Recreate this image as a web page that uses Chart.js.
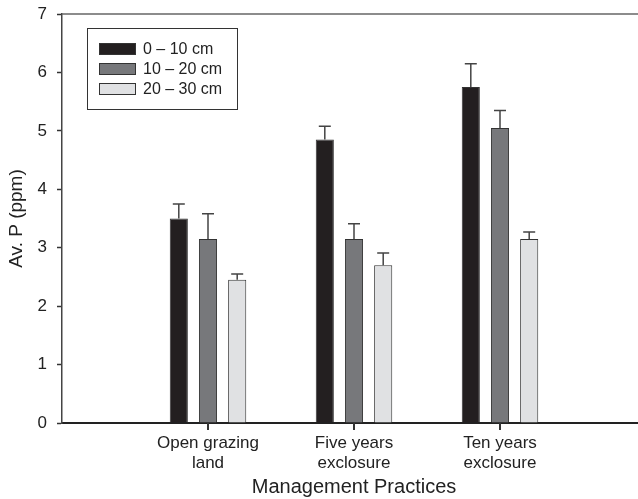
<!DOCTYPE html>
<html>
<head>
<meta charset="utf-8">
<script src="https://cdn.jsdelivr.net/npm/chart.js@4.4.1/dist/chart.umd.min.js"></script>
<style>
    html, body { margin: 0; padding: 0; background: #fff; }
    #wrap { width: 638px; height: 499px; overflow: hidden; }
</style>
</head>
<body>
<div id="wrap"><canvas id="chart" width="646" height="499"></canvas></div>
<script>
/* data; empty slots at both ends keep the groups where they sit */
const categories = ['', ['Open grazing', 'land'], ['Five years', 'exclosure'], ['Ten years', 'exclosure'], ''];
const seriesNames = ['0 \u2013 10 cm', '10 \u2013 20 cm', '20 \u2013 30 cm'];
const depth0to10 = [null, 3.50, 4.85, 5.75, null];
const depth10to20 = [null, 3.15, 3.15, 5.05, null];
const depth20to30 = [null, 2.45, 2.70, 3.15, null];
const err0to10 = [null, 0.25, 0.23, 0.40, null];
const err10to20 = [null, 0.43, 0.26, 0.30, null];
const err20to30 = [null, 0.10, 0.21, 0.12, null];
const yTicks = [0, 1, 2, 3, 4, 5, 6, 7];

const fills = ['#231f20', '#77787b', '#e0e1e3'];
const FONT = 'Liberation Sans, Arial, sans-serif';

/* upper error bars with a cap, plus the category ticks under the axis */
const errorBars = {
    id: 'errorBars',
    afterDatasetsDraw: function (chart) {
        var ctx = chart.ctx;
        var y = chart.scales.y;
        ctx.save();
        ctx.strokeStyle = '#444';
        ctx.lineWidth = 1.5;
        chart.data.datasets.forEach(function (ds, i) {
            var meta = chart.getDatasetMeta(i);
            meta.data.forEach(function (bar, j) {
                if (ds.data[j] == null) return;
                var top = y.getPixelForValue(ds.data[j] + ds.errors[j]);
                ctx.beginPath();
                ctx.moveTo(bar.x, bar.y);
                ctx.lineTo(bar.x, top);
                ctx.moveTo(bar.x - 6, top);
                ctx.lineTo(bar.x + 6, top);
                ctx.stroke();
            });
        });
        ctx.restore();
    },
    afterDraw: function (chart) {
        var ctx = chart.ctx;
        var x = chart.scales.x;
        var base = chart.chartArea.bottom;
        ctx.save();
        ctx.strokeStyle = '#333';
        ctx.lineWidth = 2;
        for (var i = 0; i < categories.length; i++) {
            if (categories[i] === '') continue;
            var px = Math.round(x.getPixelForValue(i));
            ctx.beginPath();
            ctx.moveTo(px, base);
            ctx.lineTo(px, base + 7);
            ctx.stroke();
        }
        ctx.restore();
    }
};

/* top frame line and boxed legend inside the plot */
const frameAndLegend = {
    id: 'frameAndLegend',
    afterDraw: function (chart) {
        var ctx = chart.ctx;
        var a = chart.chartArea;
        ctx.save();
        ctx.strokeStyle = '#666';
        ctx.lineWidth = 1.5;
        ctx.beginPath();
        ctx.moveTo(a.left, a.top);
        ctx.lineTo(a.right, a.top);
        ctx.stroke();

        var bx = a.left + 25, by = a.top + 14;
        ctx.strokeStyle = '#333';
        ctx.lineWidth = 1;
        ctx.strokeRect(bx + 0.5, by + 0.5, 150, 81);
        ctx.font = '16px ' + FONT;
        ctx.textBaseline = 'middle';
        chart.data.datasets.forEach(function (ds, i) {
            var ry = by + 21 + i * 20;
            ctx.fillStyle = ds.backgroundColor;
            ctx.fillRect(bx + 12, ry - 6, 37, 12);
            ctx.strokeStyle = '#333';
            ctx.strokeRect(bx + 12.5, ry - 5.5, 36, 11);
            ctx.fillStyle = '#222';
            ctx.fillText(ds.label, bx + 56, ry + 1);
        });
        ctx.restore();
    }
};

const ctx = document.getElementById('chart').getContext('2d');
const chart = new Chart(ctx, {
    type: 'bar',
    data: {
        labels: categories,
        datasets: [
            { label: seriesNames[0], data: depth0to10, errors: err0to10, backgroundColor: fills[0] },
            { label: seriesNames[1], data: depth10to20, errors: err10to20, backgroundColor: fills[1] },
            { label: seriesNames[2], data: depth20to30, errors: err20to30, backgroundColor: fills[2] }
        ].map(function (ds) {
            ds.borderColor = '#333';
            ds.borderWidth = 1;
            ds.categoryPercentage = 0.6;
            ds.barPercentage = 0.62;
            return ds;
        })
    },
    options: {
        responsive: false,
        animation: false,
        devicePixelRatio: 1,
        layout: { padding: { top: 14, right: 0, left: 0, bottom: 0 } },
        plugins: { legend: { display: false }, tooltip: { enabled: false } },
        scales: {
            x: {
                offset: false,
                grid: { display: false },
                border: { display: true, color: '#222', width: 2 },
                ticks: { color: '#222', font: { family: FONT, size: 17, lineHeight: 1.15 }, padding: 3, maxRotation: 0, autoSkip: false },
                title: { display: true, text: 'Management Practices', color: '#222', font: { family: FONT, size: 20 }, padding: { top: 2, bottom: 0 } },
                afterFit: function (scale) {
                    scale.height = 76;
                    scale.paddingLeft = 0;
                    scale.paddingRight = 0;
                }
            },
            y: {
                min: 0,
                max: 7,
                afterBuildTicks: function (scale) { scale.ticks = yTicks.map(function (v) { return { value: v }; }); },
                grid: { drawOnChartArea: false, tickLength: 5, tickColor: '#333', tickWidth: 1.5 },
                border: { color: '#444', width: 1.5 },
                ticks: { color: '#222', font: { family: FONT, size: 17 }, padding: 10 },
                title: { display: true, text: 'Av. P (ppm)', color: '#222', font: { family: FONT, size: 19 }, padding: { top: 5, bottom: 0 } },
                afterFit: function (scale) {
                    scale.width = 62;
                    scale.paddingTop = 0;
                    scale.paddingBottom = 0;
                }
            }
        }
    },
    plugins: [errorBars, frameAndLegend]
});
</script>
</body>
</html>
